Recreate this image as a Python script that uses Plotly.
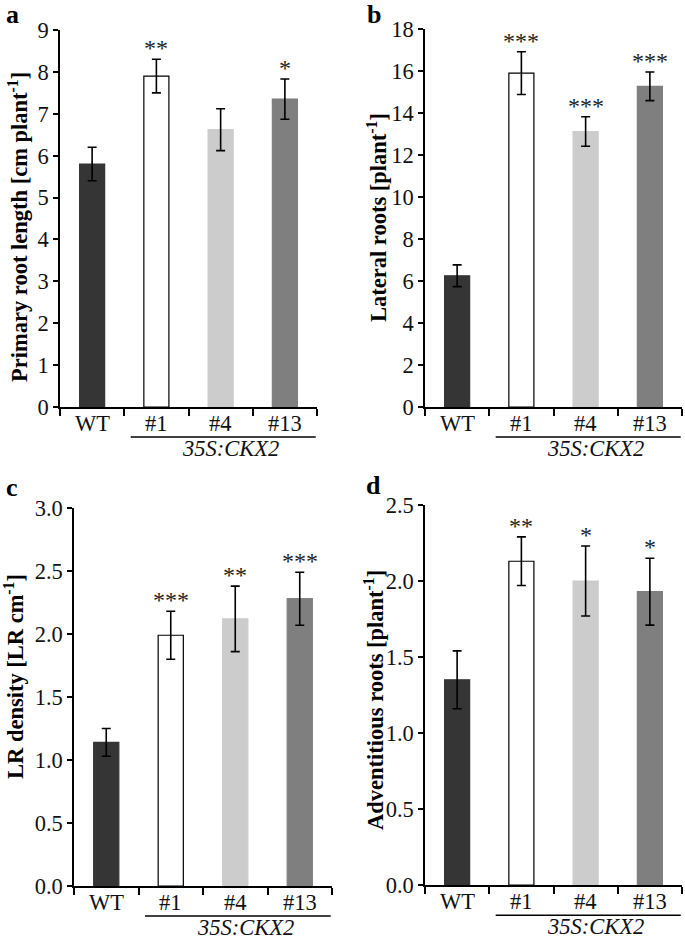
import plotly.graph_objects as go

categories = ["WT", "#1", "#4", "#13"]
bar_colors = ["#353535", "#ffffff", "#cccccc", "#7f7f7f"]
line_colors = ["#353535", "#000000", "#cccccc", "#7f7f7f"]

# panel a
a_values = [5.8, 7.9, 6.62, 7.35]
a_errors = [0.4, 0.4, 0.5, 0.48]
a_stars = ["", "**", "", "*"]
# panel b
b_values = [6.25, 15.9, 13.12, 15.27]
b_errors = [0.52, 1.02, 0.7, 0.68]
b_stars = ["", "***", "***", "***"]
# panel c
c_values = [1.14, 1.99, 2.12, 2.28]
c_errors = [0.11, 0.19, 0.26, 0.21]
c_stars = ["", "***", "**", "***"]
# panel d
d_values = [1.35, 2.13, 2.0, 1.93]
d_errors = [0.19, 0.16, 0.23, 0.22]
d_stars = ["", "**", "*", "*"]

W, H = 685, 943
FONT = "Liberation Serif, Times New Roman, serif"

panels = [
    dict(letter="a", vals=a_values, errs=a_errors, stars=a_stars, ymax=9, dtick=1, fmt="",
         title="Primary root length [cm plant<sup>-1</sup>]",
         px=(60, 317), py=(30, 407), tx=18, ty=227, lx=12, ly=14),
    dict(letter="b", vals=b_values, errs=b_errors, stars=b_stars, ymax=18, dtick=2, fmt="",
         title="Lateral roots [plant<sup>-1</sup>]",
         px=(425, 682), py=(29, 407), tx=377, ty=218, lx=374, ly=14),
    dict(letter="c", vals=c_values, errs=c_errors, stars=c_stars, ymax=3.0, dtick=0.5, fmt=".1f",
         title="LR density [LR cm<sup>-1</sup>]",
         px=(74, 332), py=(508, 886), tx=14, ty=677, lx=12, ly=487),
    dict(letter="d", vals=d_values, errs=d_errors, stars=d_stars, ymax=2.5, dtick=0.5, fmt=".1f",
         title="Adventitious roots [plant<sup>-1</sup>]",
         px=(425, 682), py=(505, 885), tx=374, ty=700, lx=374, ly=485),
]

fig = go.Figure()
annotations = []
shapes = []

for i, p in enumerate(panels):
    n = "" if i == 0 else str(i + 1)
    xa, ya = "x" + n, "y" + n
    fig.add_trace(go.Bar(
        x=categories, y=p["vals"], xaxis=xa, yaxis=ya, width=0.39,
        marker=dict(color=bar_colors, line=dict(color=line_colors, width=1.2)),
        error_y=dict(type="data", array=p["errs"], visible=True, color="black",
                     thickness=1.6, width=4.5),
        showlegend=False, cliponaxis=False,
    ))
    xd = [p["px"][0] / W, p["px"][1] / W]
    yd = [1 - p["py"][1] / H, 1 - p["py"][0] / H]
    axis_font = dict(family=FONT, size=22.5, color="#111")
    fig.update_layout(**{
        "xaxis" + n: dict(domain=xd, anchor=ya, type="category", range=[-0.5, 3.5],
                          tickson="boundaries", ticks="outside", ticklen=7, tickwidth=1.5,
                          tickcolor="black", showline=True, linecolor="black", linewidth=1.5,
                          showgrid=False, showticklabels=False, fixedrange=True,
                          automargin=False),
        "yaxis" + n: dict(domain=yd, anchor=xa, range=[0, p["ymax"]], dtick=p["dtick"],
                          tickformat=p["fmt"], ticks="outside", ticklen=5, tickwidth=1.5,
                          tickcolor="black", showline=True, linecolor="black", linewidth=1.5,
                          showgrid=False, zeroline=False, tickfont=axis_font, fixedrange=True,
                          automargin=False),
    })
    # category labels
    for c in categories:
        annotations.append(dict(text=c, xref=xa, yref=ya + " domain", x=c, y=0, yshift=-16,
                                showarrow=False, xanchor="center", yanchor="middle",
                                font=axis_font))
    # y-axis title
    annotations.append(dict(text="<b>" + p["title"] + "</b>", xref="paper", yref="paper",
                            x=p["tx"] / W, y=1 - p["ty"] / H, textangle=-90, showarrow=False,
                            xanchor="center", yanchor="middle",
                            font=dict(family=FONT, size=22.5, color="black")))
    # panel letter
    annotations.append(dict(text="<b>" + p["letter"] + "</b>", xref="paper", yref="paper",
                            x=p["lx"] / W, y=1 - p["ly"] / H, showarrow=False,
                            xanchor="center", yanchor="middle",
                            font=dict(family=FONT, size=26, color="black")))
    # significance stars
    for c, v, e, s in zip(categories, p["vals"], p["errs"], p["stars"]):
        if s:
            annotations.append(dict(text=s, xref=xa, yref=ya, x=c, y=v + e, showarrow=False,
                                    xanchor="center", yanchor="bottom", yshift=-4,
                                    font=dict(family=FONT, size=24, color="#222")))
    # group underline and label
    shapes.append(dict(type="line", xref=xa, yref=ya + " domain", x0=0.6, x1=3.48,
                       y0=-30 / 377, y1=-30 / 377, line=dict(color="black", width=1.5)))
    annotations.append(dict(text="<i>35S:CKX2</i>", xref=xa, yref=ya + " domain", x=2.16, y=0,
                            yshift=-41, showarrow=False, xanchor="center", yanchor="middle",
                            font=dict(family=FONT, size=22.5, color="#111")))

fig.update_layout(width=W, height=H, margin=dict(l=0, r=0, t=0, b=0, autoexpand=False),
                  paper_bgcolor="white", plot_bgcolor="white",
                  annotations=annotations, shapes=shapes, bargap=0.6)

fig.write_html("out.html", config={"displayModeBar": False},
               post_script="document.body.style.margin='0';document.body.style.padding='0';")
